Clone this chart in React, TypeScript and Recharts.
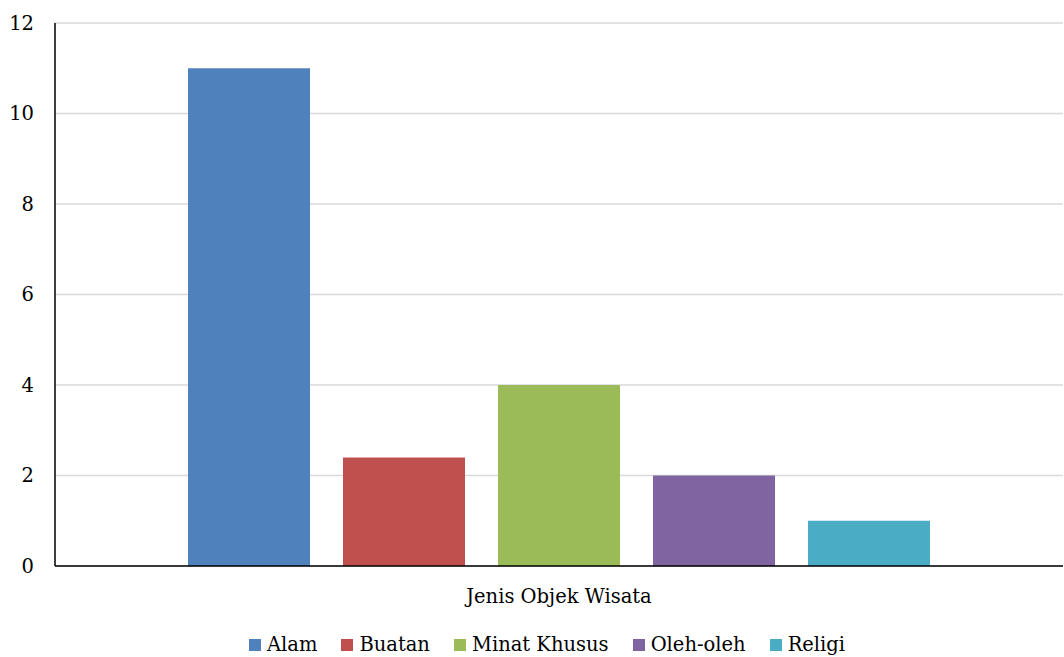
import React from 'react';
import { BarChart, Bar, XAxis, YAxis, CartesianGrid, Legend } from 'recharts';

// Jumlah objek wisata per jenis
const categories = ['Jenis Objek Wisata'];
const seriesNames = ['Alam', 'Buatan', 'Minat Khusus', 'Oleh-oleh', 'Religi'];
const seriesValues = [11, 2.4, 4, 2, 1];
const seriesColors = ['#4F81BD', '#C0504D', '#9BBB59', '#8064A2', '#4BACC6'];
const yTicks = [0, 2, 4, 6, 8, 10, 12];

const data = categories.map((name) => {
  const row: Record<string, string | number> = { name };
  seriesNames.forEach((s, i) => {
    row[s] = seriesValues[i];
  });
  return row;
});

const FONT = "'DejaVu Serif', serif";
const FONT_SIZE = 19.5;

const LegendContent = () => (
  <div
    style={{
      textAlign: 'center',
      fontFamily: FONT,
      fontSize: FONT_SIZE,
      color: '#000',
      lineHeight: '26px',
      paddingTop: 15,
    }}
  >
    {seriesNames.map((s, i) => (
      <span key={s} style={{ display: 'inline-flex', alignItems: 'center', marginRight: 24 }}>
        <span
          style={{ display: 'inline-block', width: 12, height: 12, background: seriesColors[i], marginRight: 6 }}
        />
        <span>{s}</span>
      </span>
    ))}
  </div>
);

export default function App() {
  return (
    <div style={{ position: 'absolute', left: 0, top: 0, background: '#fff', fontFamily: FONT }}>
      <BarChart
        width={1064}
        height={657}
        data={data}
        margin={{ top: 23, right: 1, bottom: 0, left: 0 }}
        barSize={122}
        barGap={33}
      >
        <CartesianGrid vertical={false} stroke="#D9D9D9" strokeWidth={1.5} />
        <XAxis
          dataKey="name"
          height={51}
          axisLine={{ stroke: '#000', strokeWidth: 1.5 }}
          tickLine={false}
          tickSize={0}
          tickMargin={23}
          tick={{ fill: '#000', fontSize: FONT_SIZE, fontFamily: FONT }}
        />
        <YAxis
          width={55}
          domain={[0, 12]}
          ticks={yTicks}
          interval={0}
          axisLine={{ stroke: '#000', strokeWidth: 1.5 }}
          tickLine={false}
          tickSize={0}
          tickMargin={21}
          tick={{ fill: '#000', fontSize: FONT_SIZE, fontFamily: FONT }}
        />
        <Legend
          verticalAlign="bottom"
          height={40}
          content={<LegendContent />}
          wrapperStyle={{ left: 55, width: 1008 }}
        />
        {seriesNames.map((s, i) => (
          <Bar key={s} dataKey={s} fill={seriesColors[i]} isAnimationActive={false} />
        ))}
      </BarChart>
    </div>
  );
}
